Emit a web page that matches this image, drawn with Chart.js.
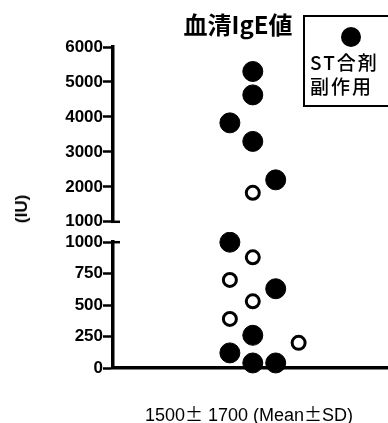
<!DOCTYPE html>
<html lang="ja">
<head>
    <meta charset="UTF-8">
    <title>血清IgE値</title>
    <script src="https://cdn.jsdelivr.net/npm/chart.js@4.4.1/dist/chart.umd.min.js"></script>
    <style>
        html, body { margin: 0; padding: 0; background: #fff; }
        #wrap { position: relative; width: 388px; height: 423px; overflow: hidden; font-family: "Liberation Sans", Arial, sans-serif; color: #000; }
        .panel { position: absolute; left: 0; }
        #title { position: absolute; left: 138px; top: 12px; width: 200px; text-align: center;
                 font: bold 24px "Noto Sans CJK JP", sans-serif; line-height: 1; }
        #legend { position: absolute; left: 303px; top: 15px; width: 110px; height: 92px;
                  border: 2px solid #000; box-sizing: border-box; }
        #legend .dot { position: absolute; left: 36px; top: 10px; width: 20px; height: 20px; border-radius: 50%; background: #000; }
        #legend .txt { position: absolute; left: 5px; font: 500 19px "Noto Sans CJK JP", sans-serif; letter-spacing: 2px; line-height: 1; }
        #ylab { position: absolute; left: 22px; top: 209px; transform: translate(-50%, -50%) rotate(-90deg);
                font: bold 17px "Liberation Sans", Arial, sans-serif; white-space: nowrap; }
        #note { position: absolute; left: 249px; top: 413px; transform: translate(-50%, -50%);
                font: 18px "Liberation Sans", Arial, sans-serif; white-space: nowrap; }
        #note .pm { font-family: "Noto Sans CJK JP", sans-serif; }
    </style>
</head>
<body>
<div id="wrap">
    <div class="panel" style="top:0"><canvas id="chartTop" width="388" height="232"></canvas></div>
    <div class="panel" style="top:232px"><canvas id="chartBottom" width="388" height="191"></canvas></div>
    <div id="title">血清IgE値</div>
    <div id="legend">
        <div class="dot"></div>
        <div class="txt" style="top:35px">ST合剤</div>
        <div class="txt" style="top:59px">副作用</div>
    </div>
    <div id="ylab">(IU)</div>
    <div id="note">1500<span class="pm">±</span> 1700 (Mean<span class="pm">±</span>SD)</div>
</div>

<script>
    // serum IgE, filled = ST combination side effect, open = others
    var filledValues = [5300, 4630, 3830, 3300, 2200, 1000, 630, 260, 120, 40, 40];
    var filledJitter = [0, 0, -1, 0, 1, -1, 1, 0, -1, 0, 1];
    var openValues = [1830, 880, 700, 530, 390, 200];
    var openJitter = [0, 0, -1, 0, -1, 2];

    var breakValue = 1000;
    var topTicks = [1000, 2000, 3000, 4000, 5000, 6000];
    var bottomTicks = [0, 250, 500, 750, 1000];

    function pick(values, jitter, upper) {
        var pts = [];
        for (var i = 0; i < values.length; i++) {
            var isUpper = values[i] > breakValue;
            if (isUpper === upper) pts.push({ x: jitter[i], y: values[i] });
        }
        return pts;
    }

    // short stub to the right of the axis where it is broken
    var capPlugin = {
        id: 'cap',
        afterDraw: function (chart, args, opts) {
            var y = chart.scales.y;
            var ctx = chart.ctx;
            var py = y.getPixelForValue(opts.value);
            ctx.save();
            ctx.strokeStyle = '#000';
            ctx.lineWidth = 2.5;
            ctx.beginPath();
            ctx.moveTo(y.right - 2, py);
            ctx.lineTo(y.right + 7, py);
            ctx.stroke();
            ctx.restore();
        }
    };

    function makeChart(id, upper, ticks, pad) {
        var ctx = document.getElementById(id).getContext('2d');
        return new Chart(ctx, {
            type: 'scatter',
            data: {
                datasets: [
                    {
                        label: 'ST合剤副作用',
                        data: pick(filledValues, filledJitter, upper),
                        backgroundColor: '#000',
                        borderColor: '#000',
                        borderWidth: 1,
                        pointRadius: 10,
                        pointHoverRadius: 10,
                        clip: false
                    },
                    {
                        label: 'その他',
                        data: pick(openValues, openJitter, upper),
                        backgroundColor: '#fff',
                        borderColor: '#000',
                        borderWidth: 3,
                        pointRadius: 6.5,
                        pointHoverRadius: 6.5,
                        clip: false
                    }
                ]
            },
            options: {
                responsive: false,
                animation: false,
                devicePixelRatio: 1,
                layout: { autoPadding: false, padding: pad },
                plugins: {
                    legend: { display: false },
                    tooltip: { enabled: false },
                    cap: { value: breakValue }
                },
                scales: {
                    x: {
                        type: 'linear',
                        display: !upper,
                        min: -6.1,
                        max: 5.9,
                        ticks: { display: false },
                        grid: { drawOnChartArea: false, drawTicks: false },
                        border: { display: true, color: '#000', width: 3.5 },
                        afterFit: function (scale) { scale.height = 0; }
                    },
                    y: {
                        type: 'linear',
                        min: ticks[0],
                        max: ticks[ticks.length - 1],
                        afterBuildTicks: function (scale) {
                            scale.ticks = ticks.map(function (v) { return { value: v }; });
                        },
                        afterFit: function (scale) { scale.width = 113; },
                        ticks: {
                            color: '#000',
                            padding: 0,
                            font: { family: '"Liberation Sans", Arial, sans-serif', size: 17, weight: 'bold' },
                            callback: function (v) { return String(v); }
                        },
                        grid: {
                            drawOnChartArea: false,
                            color: '#000',
                            tickColor: '#000',
                            tickLength: 10,
                            tickWidth: 2.5
                        },
                        border: { display: true, color: '#000', width: 3.5 }
                    }
                }
            },
            plugins: [capPlugin]
        });
    }

    makeChart('chartTop', true, topTicks, { top: 47, bottom: 10, left: 0, right: 0 });
    makeChart('chartBottom', false, bottomTicks, { top: 10, bottom: 55, left: 0, right: 0 });
</script>
</body>
</html>
